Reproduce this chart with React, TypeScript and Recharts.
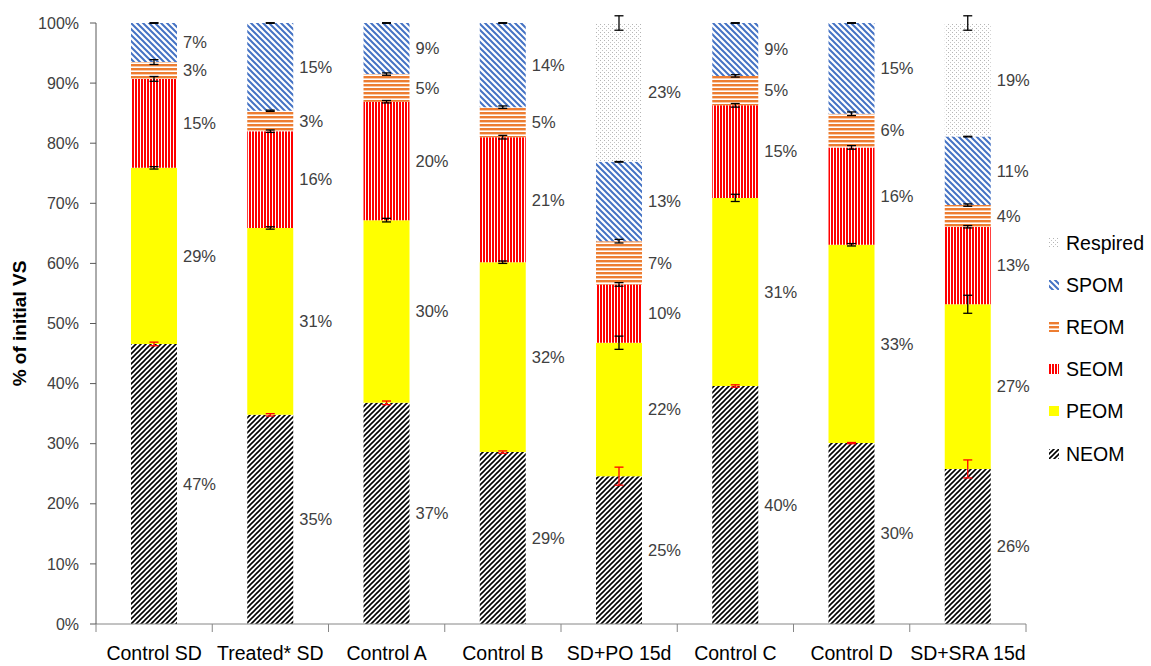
import React from 'react';
import { BarChart, Bar, XAxis, YAxis, ErrorBar, LabelList } from 'recharts';

const categories = ['Control SD', 'Treated* SD', 'Control A', 'Control B', 'SD+PO 15d', 'Control C', 'Control D', 'SD+SRA 15d'];
const neom = [46.6, 34.8, 36.8, 28.6, 24.6, 39.6, 30.1, 25.8];
const peom = [29.3, 31.1, 30.4, 31.6, 22.2, 31.3, 33.0, 27.4];
const seom = [14.8, 16.1, 19.7, 20.8, 9.7, 15.4, 16.2, 12.9];
const reom = [2.8, 3.4, 4.6, 5.0, 7.2, 4.9, 5.6, 3.6];
const spom = [6.5, 14.6, 8.5, 14.0, 13.2, 8.8, 15.1, 11.4];
const respired = [0, 0, 0, 0, 23.1, 0, 0, 18.9];

const neomErr = [0.3, 0.2, 0.3, 0.2, 1.5, 0.2, 0.1, 1.5];
const peomErr = [0.2, 0.2, 0.3, 0.2, 1.1, 0.6, 0.2, 1.5];
const seomErr = [0.4, 0.2, 0.2, 0.3, 0.3, 0.3, 0.3, 0.2];
const reomErr = [0.4, 0.1, 0.2, 0.2, 0.3, 0.2, 0.3, 0.2];
const spomErr = [0.05, 0.05, 0.05, 0.05, 0.05, 0.05, 0.05, 0.05];
const respiredErr = [0, 0, 0, 0, 1.2, 0, 0, 1.2];

const yTicks = [0, 10, 20, 30, 40, 50, 60, 70, 80, 90, 100];

const data = categories.map((name, i) => ({
  name,
  NEOM: neom[i], PEOM: peom[i], SEOM: seom[i], REOM: reom[i], SPOM: spom[i], Respired: respired[i],
  NEOM_err: neomErr[i], PEOM_err: peomErr[i], SEOM_err: seomErr[i], REOM_err: reomErr[i],
  SPOM_err: spomErr[i], Respired_err: respiredErr[i],
}));

const FONT = '"Liberation Sans", Arial, sans-serif';

const series = [
  { key: 'NEOM', fill: 'url(#pNeom)', err: '#FF0000' },
  { key: 'PEOM', fill: '#FFFF00', err: '#000000' },
  { key: 'SEOM', fill: 'url(#pSeom)', err: '#000000' },
  { key: 'REOM', fill: 'url(#pReom)', err: '#000000' },
  { key: 'SPOM', fill: 'url(#pSpom)', err: '#000000' },
  { key: 'Respired', fill: 'url(#pResp)', err: '#000000' },
];

const legendOrder = ['Respired', 'SPOM', 'REOM', 'SEOM', 'PEOM', 'NEOM'];

const fmt = (v: any) => (typeof v === 'number' && v > 0 ? `${Math.round(v)}%` : '');

const XTick = (props: any) => {
  const { x, y, payload, index, visibleTicksCount } = props;
  const half = payload && payload.offset ? payload.offset : 58;
  const last = index === (visibleTicksCount ?? categories.length) - 1;
  return (
    <g>
      <line x1={x - half} x2={x - half} y1={y} y2={y + 8} stroke="#868686" strokeWidth={1} />
      {last && <line x1={x + half} x2={x + half} y1={y} y2={y + 8} stroke="#868686" strokeWidth={1} />}
      <text x={x} y={y + 36} textAnchor="middle" fontSize={19.5} fill="#000" fontFamily={FONT}>
        {payload.value}
      </text>
    </g>
  );
};

const YLabel = (props: any) => {
  const vb = props.viewBox || { x: 0, y: 23, width: 96, height: 601 };
  const cx = vb.x + 26;
  const cy = vb.y + vb.height / 2;
  return (
    <text x={cx} y={cy} transform={`rotate(-90 ${cx} ${cy})`} textAnchor="middle" fontSize={19} fontWeight="bold" fill="#000" fontFamily={FONT}>
      % of initial VS
    </text>
  );
};

const Patterns = () => (
  <svg width={0} height={0} style={{ position: 'absolute' }}>
    <defs>
      <pattern id="pNeom" patternUnits="userSpaceOnUse" width={5} height={5}>
        <rect width={5} height={5} fill="#fff" />
        <path d="M-1,1 L1,-1 M0,5 L5,0 M4,6 L6,4" stroke="#000" strokeWidth={1.6} />
      </pattern>
      <pattern id="pSpom" patternUnits="userSpaceOnUse" width={6} height={6}>
        <rect width={6} height={6} fill="#fff" />
        <path d="M-1,5 L1,7 M0,0 L6,6 M5,-1 L7,1" stroke="#4472C4" strokeWidth={2} />
      </pattern>
      <pattern id="pSeom" patternUnits="userSpaceOnUse" width={3} height={3}>
        <rect width={3} height={3} fill="#fff" />
        <rect x={0} y={0} width={2} height={3} fill="#FF0000" />
      </pattern>
      <pattern id="pReom" patternUnits="userSpaceOnUse" width={4} height={4}>
        <rect width={4} height={4} fill="#fff" />
        <rect x={0} y={0} width={4} height={2.4} fill="#ED7D31" />
      </pattern>
      <pattern id="pResp" patternUnits="userSpaceOnUse" width={4} height={4}>
        <rect width={4} height={4} fill="#fff" />
        <rect x={0} y={0} width={1} height={1} fill="#b4b4b4" />
        <rect x={2} y={2} width={1} height={1} fill="#c4c4c4" />
      </pattern>
    </defs>
  </svg>
);

const Legend = () => {
  const centers = [243, 285, 327, 369, 411, 454];
  return (
    <>
      {legendOrder.map((k, i) => {
        const s = series.find((q) => q.key === k)!;
        return (
          <div key={k} style={{ position: 'absolute', left: 1049, top: centers[i] - 12, height: 24, display: 'flex', alignItems: 'center', fontFamily: FONT, fontSize: 19.5, color: '#000', whiteSpace: 'nowrap' }}>
            <svg width={10} height={10} style={{ marginRight: 7 }}>
              <rect width={10} height={10} fill={s.fill} />
            </svg>
            <span>{k}</span>
          </div>
        );
      })}
    </>
  );
};

export default function App() {
  return (
    <div style={{ position: 'absolute', left: 0, top: 0, width: 1151, height: 666, background: '#fff' }}>
      <Patterns />
      <BarChart width={1151} height={666} data={data} margin={{ top: 23, right: 125, bottom: 0, left: 0 }}>
        <XAxis dataKey="name" height={42} tickLine={false} tickSize={0} tickMargin={0} axisLine={{ stroke: '#868686' }} tick={<XTick />} interval={0} />
        <YAxis
          type="number"
          domain={[0, 100]}
          ticks={yTicks}
          width={96}
          tickFormatter={(v: number) => `${v}%`}
          tickSize={6}
          tickMargin={11}
          axisLine={{ stroke: '#595959' }}
          tickLine={{ stroke: '#595959' }}
          tick={{ fontSize: 16, fill: '#404040', fontFamily: FONT }}
          label={<YLabel />}
          allowDataOverflow
        />
        {series.map((s) => (
          <Bar key={s.key} dataKey={s.key} stackId="a" fill={s.fill} barSize={46} isAnimationActive={false}>
            <ErrorBar dataKey={`${s.key}_err`} width={4.5} stroke={s.err} strokeWidth={1.3} direction="y" />
            <LabelList dataKey={s.key} position="right" offset={6} formatter={fmt} fontSize={16.5} fill="#404040" fontFamily={FONT} />
          </Bar>
        ))}
      </BarChart>
      <Legend />
    </div>
  );
}
